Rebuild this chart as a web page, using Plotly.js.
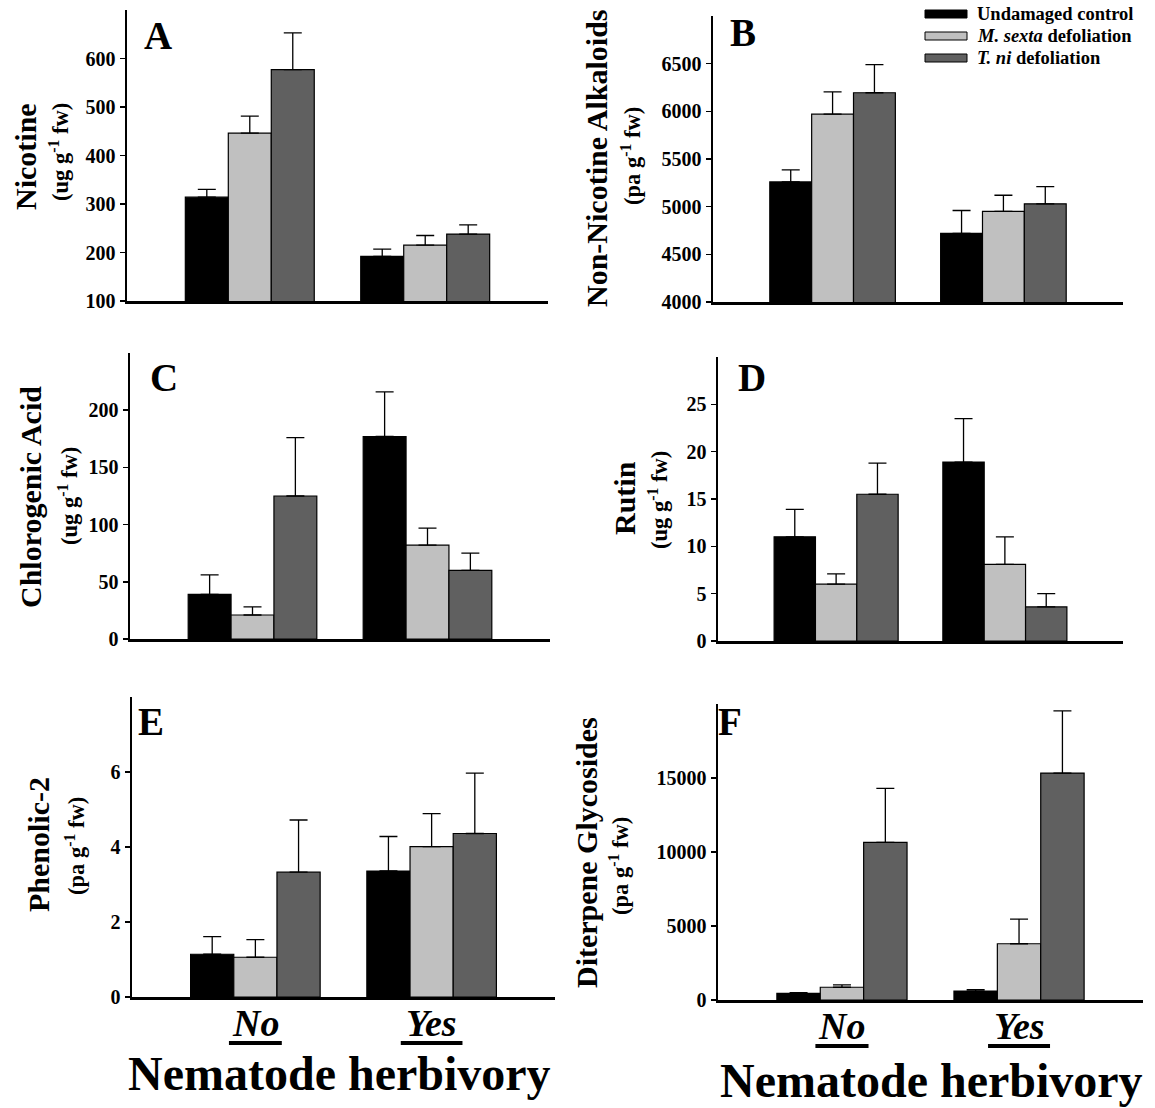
<!DOCTYPE html>
<html><head><meta charset="utf-8">
<script src="https://cdn.plot.ly/plotly-3.0.1.min.js"></script>
<style>html,body{margin:0;padding:0;background:#fff}</style>
</head><body><div id="chart" style="width:1155px;height:1108px"></div>
<script>
// ---------- DATA ----------
const groups = ['No', 'Yes'];
const seriesNames = ['Undamaged control', '<i>M. sexta</i> defoliation', '<i>T. ni</i> defoliation'];
const seriesColors = ['#000000', '#c0c0c0', '#606060'];

// each array: [series][group]  (series = control, M. sexta, T. ni ; group = No, Yes)
const nicotineMean = [[314, 192], [446, 215], [577, 238]];
const nicotineSE   = [[16, 15], [35, 20], [76, 19]];
const nicotineTicks = [100, 200, 300, 400, 500, 600];

const alkaloidMean = [[5260, 4720], [5970, 4950], [6195, 5030]];
const alkaloidSE   = [[125, 240], [235, 170], [295, 180]];
const alkaloidTicks = [4000, 4500, 5000, 5500, 6000, 6500];

const chlorogenicMean = [[39, 177], [21, 82], [125, 60]];
const chlorogenicSE   = [[17, 39], [7, 15], [51, 15]];
const chlorogenicTicks = [0, 50, 100, 150, 200];

const rutinMean = [[11, 18.9], [6, 8.1], [15.5, 3.6]];
const rutinSE   = [[2.9, 4.6], [1.1, 2.9], [3.3, 1.4]];
const rutinTicks = [0, 5, 10, 15, 20, 25];

const phenolicMean = [[1.14, 3.36], [1.06, 4.01], [3.33, 4.36]];
const phenolicSE   = [[0.47, 0.92], [0.47, 0.88], [1.39, 1.61]];
const phenolicTicks = [0, 2, 4, 6];

const diterpeneMean = [[450, 600], [860, 3800], [10650, 15330]];
const diterpeneSE   = [[50, 100], [160, 1670], [3650, 4210]];
const diterpeneTicks = [0, 5000, 10000, 15000];

const panelLetters = ['A', 'B', 'C', 'D', 'E', 'F'];
const yTitles = ['Nicotine', 'Non-Nicotine Alkaloids', 'Chlorogenic Acid', 'Rutin', 'Phenolic-2', 'Diterpene Glycosides'];
const yUnits = ['(ug g<sup>-1</sup> fw)', '(pa g<sup>-1</sup> fw)', '(ug g<sup>-1</sup> fw)', '(ug g<sup>-1</sup> fw)', '(pa g<sup>-1</sup> fw)', '(pa g<sup>-1</sup> fw)'];
const xAxisTitle = 'Nematode herbivory';

// ---------- LAYOUT GEOMETRY (pixels) ----------
const W = 1155, H = 1108;
const FONT = 'Liberation Serif, Times New Roman, serif';
const geo = [
  {x0: 127, x1: 548, y0: 10, y1: 301, yr: [100, 700], letter: [142, 35], t: [25, 157], u: [59, 152]},
  {x0: 713, x1: 1123, y0: 16, y1: 302, yr: [4000, 7000], letter: [728, 33], t: [596, 158], u: [631, 156]},
  {x0: 130, x1: 550, y0: 353, y1: 639, yr: [0, 250], letter: [148, 378], t: [31, 497], u: [68, 496]},
  {x0: 718, x1: 1123, y0: 357, y1: 641, yr: [0, 30], letter: [736, 378], t: [625, 498], u: [658, 500]},
  {x0: 132, x1: 555, y0: 697, y1: 997, yr: [0, 8], letter: [136, 721], t: [38, 845], u: [75, 846]},
  {x0: 718, x1: 1143, y0: 704, y1: 1000, yr: [0, 20000], letter: [716, 721], t: [586, 853], u: [619, 866]}
];
const means = [nicotineMean, alkaloidMean, chlorogenicMean, rutinMean, phenolicMean, diterpeneMean];
const ses = [nicotineSE, alkaloidSE, chlorogenicSE, rutinSE, phenolicSE, diterpeneSE];
const ticks = [nicotineTicks, alkaloidTicks, chlorogenicTicks, rutinTicks, phenolicTicks, diterpeneTicks];

const px = v => v / W, py = v => 1 - v / H;

const traces = [];
const layout = {
  width: W, height: H, margin: {l: 0, r: 0, t: 0, b: 0},
  paper_bgcolor: '#fff', plot_bgcolor: '#fff',
  showlegend: false, barmode: 'group', bargap: 0.265, bargroupgap: 0,
  font: {family: FONT, color: '#000'},
  annotations: [], shapes: []
};

geo.forEach((g, p) => {
  const n = p === 0 ? '' : String(p + 1);
  const xa = 'x' + n, ya = 'y' + n;
  for (let s = 0; s < 3; s++) {
    traces.push({
      type: 'bar', x: groups, y: means[p][s], xaxis: xa, yaxis: ya,
      name: seriesNames[s],
      marker: {color: seriesColors[s], line: {color: '#000', width: 1.2}},
      error_y: {type: 'data', symmetric: false, array: ses[p][s], arrayminus: [0, 0],
                color: '#000', thickness: 1.3, width: 9},
      hoverinfo: 'skip'
    });
  }
  const bottom = p >= 4;
  layout['xaxis' + n] = {
    domain: [px(g.x0), px(g.x1)], anchor: ya, type: 'category',
    range: [-0.7, 1.7], showgrid: false, zeroline: false,
    showline: true, linecolor: '#000', linewidth: 3,
    ticks: '', showticklabels: false,
    fixedrange: true
  };
  layout['yaxis' + n] = {
    domain: [py(g.y1), py(g.y0)], anchor: xa, range: g.yr,
    showgrid: false, zeroline: false,
    showline: true, linecolor: '#000', linewidth: 2.5,
    ticks: 'outside', ticklen: 5, tickwidth: 1.5, tickcolor: '#000',
    tickvals: ticks[p], ticktext: ticks[p].map(String),
    tickfont: {family: FONT, size: 20, weight: 'bold'},
    fixedrange: true
  };
  layout.annotations.push({
    xref: 'paper', yref: 'paper', x: px(g.letter[0]), y: py(g.letter[1]),
    xanchor: 'left', yanchor: 'middle', showarrow: false,
    text: panelLetters[p], font: {family: FONT, size: 39, weight: 'bold'}
  });
  layout.annotations.push({
    xref: 'paper', yref: 'paper', x: px(g.t[0]), y: py(g.t[1]),
    xanchor: 'center', yanchor: 'middle', showarrow: false, textangle: -90,
    text: yTitles[p], font: {family: FONT, size: 30, weight: 'bold'}
  });
  layout.annotations.push({
    xref: 'paper', yref: 'paper', x: px(g.u[0]), y: py(g.u[1]),
    xanchor: 'center', yanchor: 'middle', showarrow: false, textangle: -90,
    text: yUnits[p], font: {family: FONT, size: 22.5, weight: 'bold'}
  });
  if (bottom) {
    groups.forEach((gr, i) => {
      layout.annotations.push({
        xref: xa, yref: 'paper', x: gr, y: py(g.y1 + 26),
        xanchor: 'center', yanchor: 'middle', showarrow: false,
        text: '<i>' + gr + '</i>', font: {family: FONT, size: 38, weight: 'bold'}
      });
      const hw = gr === 'No' ? 0.15 : 0.175;
      layout.shapes.push({type: 'line', xref: xa, yref: 'paper', x0: i - hw, x1: i + hw,
        y0: py(g.y1 + 46), y1: py(g.y1 + 46), line: {color: '#000', width: 4}});
    });
  }
});

// x-axis titles under bottom panels
[[339, 1073], [931, 1080]].forEach(c => {
  layout.annotations.push({
    xref: 'paper', yref: 'paper', x: px(c[0]), y: py(c[1]),
    xanchor: 'center', yanchor: 'middle', showarrow: false,
    text: xAxisTitle, font: {family: FONT, size: 48, weight: 'bold'}
  });
});

// legend (manual, wide swatches)
seriesNames.forEach((name, s) => {
  const cy = 14 + s * 22;
  layout.shapes.push({type: 'rect', xref: 'paper', yref: 'paper',
    x0: px(925), x1: px(967), y0: py(cy + 4), y1: py(cy - 4),
    fillcolor: seriesColors[s], line: {color: '#000', width: 1}});
  layout.annotations.push({xref: 'paper', yref: 'paper', x: px(975), y: py(cy),
    xanchor: 'left', yanchor: 'middle', showarrow: false, text: name,
    font: {family: FONT, size: 18.5, weight: 'bold'}});
});

Plotly.newPlot('chart', traces, layout, {displayModeBar: false, staticPlot: true});
</script>
</body></html>
